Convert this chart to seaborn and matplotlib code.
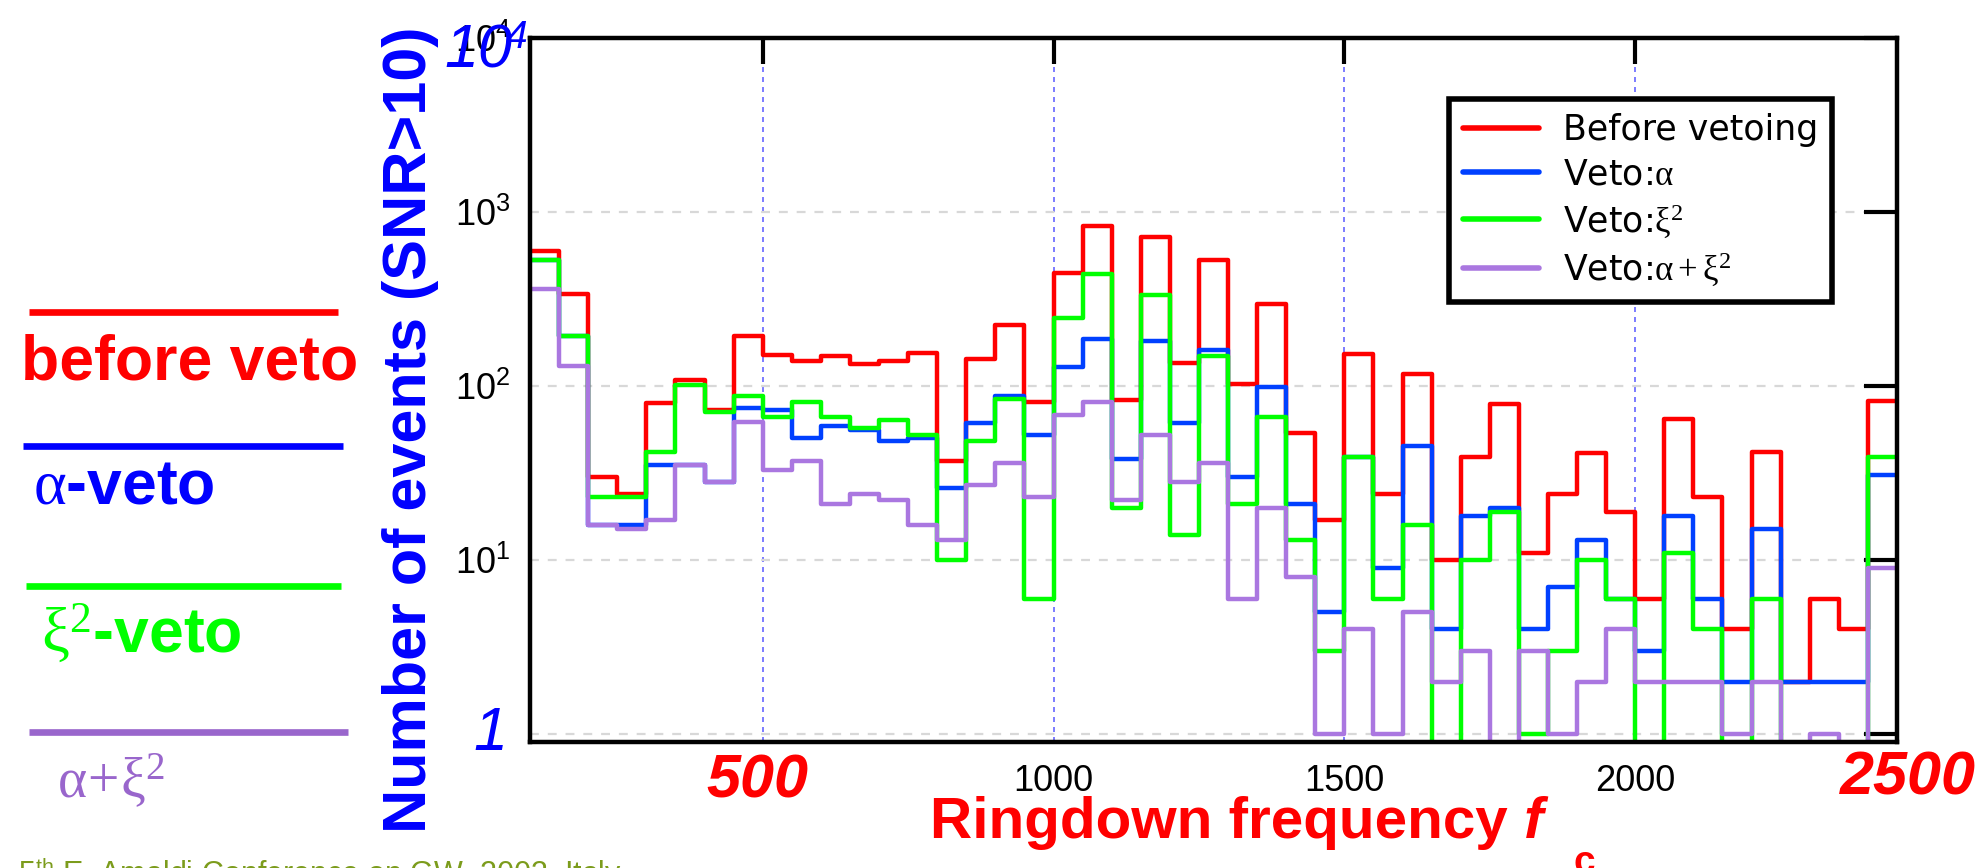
import numpy as np
import pandas as pd
import matplotlib
matplotlib.use("Agg")
import matplotlib.pyplot as plt
import seaborn as sns
from matplotlib.lines import Line2D
from matplotlib.ticker import FixedLocator, NullLocator

# ---------------- data ----------------
bin_edges = list(range(100, 2451, 50))  # 47 bins, 100 .. 2450 Hz

before_veto = [600, 337, 30, 24, 80, 108, 73, 193, 150, 140, 148, 133, 140, 154, 37, 143,
               225, 81, 448, 835, 83, 722, 136, 532, 103, 297, 54, 17, 153, 24, 117, 10,
               39, 79, 11, 24, 41, 19, 6, 65, 23, 4, 42, 2, 6, 4, 82]
veto_alpha = [528, 193, 16, 16, 35, 35, 28, 75, 73, 50, 59, 56, 48, 50, 26, 61,
              88, 52, 129, 187, 38, 182, 61, 162, 30, 99, 21, 5, 39, 9, 45, 4,
              18, 20, 4, 7, 13, 6, 3, 18, 6, 2, 15, 2, 2, 2, 31]
veto_xi2 = [528, 193, 23, 23, 42, 102, 71, 88, 66, 81, 66, 57, 64, 52, 10, 48,
            84, 6, 247, 442, 20, 335, 14, 149, 21, 66, 13, 3, 39, 6, 16, 0,
            10, 19, 1, 3, 10, 6, 0, 11, 4, 0, 6, 0, 0, 0, 39]
veto_alpha_xi2 = [359, 131, 16, 15, 17, 35, 28, 62, 33, 37, 21, 24, 22, 16, 13, 27,
                  36, 23, 68, 81, 22, 52, 28, 36, 6, 20, 8, 1, 4, 1, 5, 2,
                  3, 0, 3, 1, 2, 4, 2, 2, 2, 1, 2, 0, 1, 0, 9]

series_labels = ["Before vetoing", r"Veto:$\mathrm{\alpha}$", r"Veto:$\mathrm{\xi}^2$",
                 r"Veto:$\mathrm{\alpha}+\mathrm{\xi}^2$"]
series_colors = ["#ff0000", "#0040ff", "#00ff00", "#aa77e0"]

x_ticks = [500, 1000, 1500, 2000]
x_ticklabels = ["", "1000", "1500", "2000"]
y_ticks = [1, 10, 100, 1000, 10000]
y_ticklabels = ["", r"$\mathsf{10^{1}}$", r"$\mathsf{10^{2}}$", r"$\mathsf{10^{3}}$",
                r"$\mathsf{10^{4}}$"]

side_labels = ["before veto", r"$\mathrm{\alpha}$-veto", r"$\mathrm{\xi}^2$-veto",
               r"$\mathrm{\alpha}\!+\!\mathrm{\xi}^2$"]
side_colors = ["#ff0000", "#0000ff", "#00ff00", "#9966cc"]

# ---------------- style ----------------
sns.set_theme(style="white")
plt.rcParams["font.family"] = ["Liberation Sans", "DejaVu Sans"]
plt.rcParams["mathtext.fontset"] = "custom"
plt.rcParams["mathtext.rm"] = "Liberation Serif"
plt.rcParams["mathtext.it"] = "Liberation Serif:italic"
plt.rcParams["mathtext.bf"] = "Liberation Serif:bold"
plt.rcParams["mathtext.sf"] = "Liberation Sans"

W, H = 1983, 868
fig = plt.figure(figsize=(W / 100, H / 100), dpi=100)
ax = fig.add_axes([530 / W, 1 - 742 / H, 1367 / W, 704 / H])

centers = [(a + b) / 2 for a, b in zip(bin_edges[:-1], bin_edges[1:])]
handles = []
for vals, col in zip([before_veto, veto_alpha, veto_xi2, veto_alpha_xi2], series_colors):
    df = pd.DataFrame({"freq": centers, "count": vals})
    sns.histplot(data=df, x="freq", weights="count", bins=bin_edges, element="step",
                 fill=False, color=col, linewidth=3.2, ax=ax)
    handles.append(ax.lines[-1])

ax.set_yscale("log", nonpositive="clip")
ax.set_xlim(100, 2450)
ax.set_ylim(0.9, 1e4)
ax.set_xlabel("")
ax.set_ylabel("")

ax.xaxis.set_major_locator(FixedLocator(x_ticks))
ax.set_xticklabels(x_ticklabels)
ax.yaxis.set_major_locator(FixedLocator(y_ticks))
ax.set_yticklabels(y_ticklabels)
ax.yaxis.set_minor_locator(NullLocator())
ax.xaxis.set_minor_locator(NullLocator())
ax.tick_params(axis="both", which="major", direction="in", top=True, right=True,
               width=3, color="black", labelsize=26, labelcolor="black")
ax.tick_params(axis="y", length=24, pad=14)
ax.tick_params(axis="x", length=19, pad=16)

ax.set_axisbelow(True)
ax.grid(False)
ax.yaxis.grid(True, color="#d8d8d8", linestyle=(0, (4, 4)), linewidth=1.6)
ax.xaxis.grid(True, color="#6666ff", linestyle=(0, (3, 3)), linewidth=1.2)
for s in ax.spines.values():
    s.set_linewidth(3.2)
    s.set_color("black")

leg = ax.legend(handles, series_labels, loc="upper left", bbox_to_anchor=(0.672, 0.9134),
                borderaxespad=0, frameon=True, fancybox=False, framealpha=1,
                edgecolor="black", handlelength=2.2, handletextpad=0.7,
                labelspacing=0.3, borderpad=0.4,
                prop={"family": ["DejaVu Sans"], "size": 25})
leg.get_frame().set_linewidth(4)
for h in leg.get_lines():
    h.set_linewidth(4)
for t in leg.get_texts():
    t.set_color("black")

# ---------------- overlay annotations ----------------
fig.text(490 / W, 1 - 735 / H, "1", color="#0000ff", fontsize=44, style="italic",
         ha="center", va="center")
fig.text(444 / W, 1 - 68 / H, "10", color="#0000ff", fontsize=44, style="italic",
         ha="left", va="baseline")
fig.text(506 / W, 1 - 48 / H, "4", color="#0000ff", fontsize=28, style="italic",
         ha="left", va="baseline")
fig.text(757 / W, 1 - 782 / H, "500", color="#ff0000", fontsize=44, weight="bold",
         style="italic", ha="center", va="center")
fig.text(1908 / W, 1 - 779 / H, "2500", color="#ff0000", fontsize=44, weight="bold",
         style="italic", ha="center", va="center")

fig.text(411 / W, 1 - 430 / H, "Number of events (SNR>10)", rotation=90,
         color="#0000ff", fontsize=44, weight="bold", ha="center", va="center")

t1 = fig.text(930 / W, 1 - 838 / H, "Ringdown frequency ", color="#ff0000",
              fontsize=42, weight="bold", va="baseline", ha="left")
fig.canvas.draw()
r = fig.canvas.get_renderer()
bb = t1.get_window_extent(r)
t2 = fig.text(bb.x1 / W, 1 - 838 / H, "f", color="#ff0000", fontsize=42,
              weight="bold", style="italic", va="baseline", ha="left")
bb2 = t2.get_window_extent(r)
fig.text((bb2.x1 + 30) / W, 1 - 845 / H, "c", color="#ff0000", fontsize=28,
         weight="bold", va="top", ha="left")

# side legend
side_lines = [(312, 29, 338), (446, 23, 343), (586, 26, 341), (732, 29, 348)]
side_text = [(21, 363, 45, "bold"), (33, 487, 45, "bold"), (41, 634, 45, "bold"),
             (57, 781, 40, "normal")]
for (yl, xa, xb), (xt, yt, fs, wt), lab, col in zip(side_lines, side_text, side_labels, side_colors):
    fig.add_artist(Line2D([xa / W, xb / W], [1 - yl / H, 1 - yl / H], transform=fig.transFigure,
                          color=col, linewidth=4.8, solid_capstyle="butt"))
    fig.text(xt / W, 1 - yt / H, lab, color=col, fontsize=fs, weight=wt,
             ha="left", va="center")

fig.text(18 / W, 1 - 855 / H, "5$^{\\mathsf{th}}$ E. Amaldi Conference on GW, 2003, Italy",
         color="#7c9c1c", fontsize=22, ha="left", va="top")

fig.savefig("out.png", dpi=100)
